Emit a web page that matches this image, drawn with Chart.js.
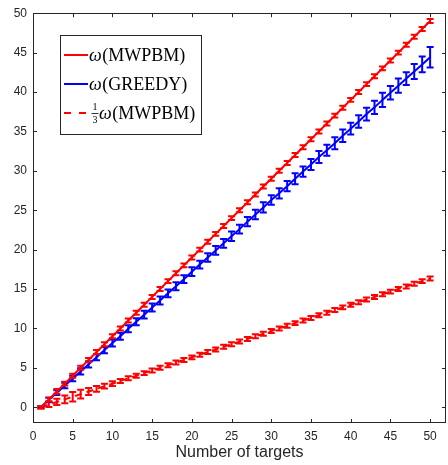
<!DOCTYPE html>
<html>
<head>
<meta charset="utf-8">
<script src="https://cdn.jsdelivr.net/npm/chart.js@4/dist/chart.umd.min.js"></script>
<style>
  html, body { margin: 0; padding: 0; background: #ffffff; }
  #wrap { width: 448px; height: 465px; }
</style>
</head>
<body>
<div id="wrap"><canvas id="c" width="448" height="465"></canvas></div>
<script>
// ---- data ----
const nTargets = [1,2,3,4,5,6,7,8,9,10,11,12,13,14,15,16,17,18,19,20,21,22,23,24,25,26,27,28,29,30,31,32,33,34,35,36,37,38,39,40,41,42,43,44,45,46,47,48,49,50];
const mwpbm = [0,1,2,3,4,5,6,7,8,9,10,11,12,13,14,15,16,17,18,19,20,21,22,23,24,25,26,27,28,29,30,31,32,33,34,35,36,37,38,39,40,41,42,43,44,45,46,47,48,49];
const mwpbmErr = [0.15,0.25,0.3,0.25,0.25,0.25,0.25,0.25,0.25,0.25,0.25,0.25,0.25,0.25,0.25,0.25,0.25,0.25,0.25,0.25,0.25,0.25,0.25,0.25,0.25,0.25,0.25,0.25,0.25,0.25,0.25,0.25,0.25,0.25,0.25,0.25,0.25,0.25,0.25,0.25,0.25,0.25,0.25,0.25,0.25,0.25,0.25,0.25,0.25,0.25];
const greedy = [0,0.95,1.85,2.75,3.65,4.55,5.45,6.35,7.25,8.15,9.0,9.95,10.85,11.75,12.65,13.55,14.45,15.35,16.25,17.2,18.1,19.0,19.9,20.8,21.7,22.6,23.55,24.45,25.35,26.3,27.15,28.05,29.0,29.9,30.8,31.75,32.6,33.5,34.45,35.35,36.25,37.2,38.05,39.0,39.9,40.8,41.7,42.6,43.5,44.4];
const greedyErr = [0.1,0.25,0.3,0.35,0.35,0.4,0.4,0.4,0.4,0.45,0.45,0.45,0.45,0.5,0.5,0.5,0.5,0.5,0.5,0.55,0.5,0.55,0.55,0.55,0.6,0.55,0.6,0.6,0.65,0.6,0.65,0.65,0.7,0.65,0.7,0.75,0.7,0.75,0.8,0.75,0.8,0.8,0.85,0.9,0.85,0.9,0.8,0.95,1.0,1.3];
const third = [0,0.33,0.67,1,1.33,1.67,2,2.33,2.67,3,3.33,3.67,4,4.33,4.67,5,5.33,5.67,6,6.33,6.67,7,7.33,7.67,8,8.33,8.67,9,9.33,9.67,10,10.33,10.67,11,11.33,11.67,12,12.33,12.67,13,13.33,13.67,14,14.33,14.67,15,15.33,15.67,16,16.33];
const thirdErr = [0.15,0.3,0.4,0.5,0.6,0.55,0.45,0.35,0.3,0.3,0.25,0.25,0.25,0.25,0.25,0.25,0.25,0.25,0.25,0.25,0.25,0.25,0.25,0.25,0.25,0.25,0.25,0.25,0.25,0.25,0.25,0.25,0.25,0.25,0.25,0.25,0.25,0.25,0.25,0.25,0.25,0.25,0.25,0.25,0.25,0.25,0.25,0.25,0.25,0.25];
const xTicks = [0,5,10,15,20,25,30,35,40,45,50];
const yTicks = [0,5,10,15,20,25,30,35,40,45,50];
const seriesLabels = ['\u03C9(MWPBM)', '\u03C9(GREEDY)', '\u03C9(MWPBM)'];
const xTitle = 'Number of targets';

const AXIS = '#262626';
const RED = '#ff0000';
const BLUE = '#0000ff';

function pts(ys) { return nTargets.map((n, i) => ({ x: n, y: ys[i] })); }

const errPlugin = {
  id: 'errbars',
  afterDatasetDraw(chart, args) {
    const ds = chart.data.datasets[args.index];
    if (!ds.errors) return;
    const ctx = chart.ctx, xs = chart.scales.x, ys = chart.scales.y;
    ctx.save();
    ctx.strokeStyle = ds.borderColor;
    ctx.lineWidth = 2;
    ctx.setLineDash([]);
    const w = ds.capWidth / 2;
    ds.data.forEach((p, i) => {
      const e = ds.errors[i];
      const x = xs.getPixelForValue(p.x);
      const y1 = ys.getPixelForValue(p.y - e);
      const y2 = ys.getPixelForValue(p.y + e);
      ctx.beginPath();
      ctx.moveTo(x, y1); ctx.lineTo(x, y2);
      ctx.moveTo(x - w, y1); ctx.lineTo(x + w, y1);
      ctx.moveTo(x - w, y2); ctx.lineTo(x + w, y2);
      ctx.stroke();
    });
    ctx.restore();
  }
};

function drawLabel(ctx, text, x, y) {
  // omega in italic, rest upright
  ctx.font = 'italic 18px "Liberation Serif", serif';
  ctx.fillText(text[0], x, y);
  const w = ctx.measureText(text[0]).width;
  ctx.font = '18px "Liberation Serif", serif';
  ctx.fillText(text.slice(1), x + w + 0.5, y);
}

const framePlugin = {
  id: 'frame',
  afterDraw(chart) {
    const ctx = chart.ctx, a = chart.chartArea, xs = chart.scales.x, ys = chart.scales.y;
    ctx.save();
    ctx.strokeStyle = AXIS;
    ctx.lineWidth = 1;
    ctx.setLineDash([]);
    ctx.strokeRect(Math.round(a.left) + 0.5, Math.round(a.top) + 0.5, Math.round(a.right - a.left) - 1, Math.round(a.bottom - a.top) - 1);
    const L = 4;
    ctx.beginPath();
    xTicks.forEach(v => {
      const x = Math.round(xs.getPixelForValue(v)) + 0.5;
      ctx.moveTo(x, a.bottom); ctx.lineTo(x, a.bottom - L);
      ctx.moveTo(x, a.top); ctx.lineTo(x, a.top + L);
    });
    yTicks.forEach(v => {
      const y = Math.round(ys.getPixelForValue(v)) + 0.5;
      ctx.moveTo(a.left, y); ctx.lineTo(a.left + L, y);
      ctx.moveTo(a.right, y); ctx.lineTo(a.right - L, y);
    });
    ctx.stroke();

    // legend
    const bx = 60, by = 35, bw = 141, bh = 99;
    ctx.fillStyle = '#ffffff';
    ctx.fillRect(bx, by, bw, bh);
    ctx.strokeStyle = AXIS;
    ctx.strokeRect(bx + 0.5, by + 0.5, bw, bh);
    const rows = [
      { y: 55, color: RED, dash: [] },
      { y: 84, color: BLUE, dash: [] },
      { y: 113, color: RED, dash: [7, 8] }
    ];
    rows.forEach((r, i) => {
      ctx.strokeStyle = r.color;
      ctx.lineWidth = 2;
      ctx.setLineDash(r.dash);
      ctx.beginPath();
      ctx.moveTo(64, r.y); ctx.lineTo(88, r.y);
      ctx.stroke();
      ctx.setLineDash([]);
      ctx.fillStyle = '#000000';
      ctx.textBaseline = 'middle';
      ctx.textAlign = 'left';
      let tx = 89;
      if (i === 2) {
        ctx.font = '10px "Liberation Serif", serif';
        ctx.textAlign = 'center';
        ctx.fillText('1', 95, r.y - 6);
        ctx.fillText('3', 95, r.y + 7);
        ctx.lineWidth = 0.8;
        ctx.strokeStyle = '#000000';
        ctx.beginPath(); ctx.moveTo(91.5, r.y + 0.5); ctx.lineTo(98.5, r.y + 0.5); ctx.stroke();
        ctx.textAlign = 'left';
        tx = 99;
      }
      drawLabel(ctx, seriesLabels[i], tx, r.y + 1);
    });
    ctx.restore();
  }
};

new Chart(document.getElementById('c'), {
  type: 'line',
  data: {
    datasets: [
      { label: seriesLabels[0], data: pts(mwpbm), errors: mwpbmErr, capWidth: 7, borderColor: RED, borderWidth: 2, pointRadius: 0, fill: false, tension: 0 },
      { label: seriesLabels[1], data: pts(greedy), errors: greedyErr, capWidth: 7, borderColor: BLUE, borderWidth: 2, pointRadius: 0, fill: false, tension: 0 },
      { label: '1/3 ' + seriesLabels[2], data: pts(third), errors: thirdErr, capWidth: 7, borderColor: RED, borderWidth: 2, borderDash: [7, 5], pointRadius: 0, fill: false, tension: 0 }
    ]
  },
  options: {
    responsive: false,
    animation: false,
    devicePixelRatio: 1,
    layout: { padding: { top: 13, right: 2, left: 0, bottom: 0 } },
    plugins: { legend: { display: false }, tooltip: { enabled: false } },
    scales: {
      x: {
        type: 'linear', min: 0, max: 52,
        grid: { display: false, drawTicks: false },
        border: { display: false },
        afterBuildTicks: s => { s.ticks = xTicks.map(v => ({ value: v })); },
        afterFit: s => { s.height = 42; },
        ticks: { color: AXIS, font: { family: '"Liberation Sans", Arial, sans-serif', size: 12 }, padding: 6, maxRotation: 0, autoSkip: false },
        title: { display: true, text: xTitle, color: AXIS, font: { family: '"Liberation Sans", Arial, sans-serif', size: 16 }, padding: { top: 0, bottom: 3 } }
      },
      y: {
        type: 'linear', min: -2, max: 50,
        grid: { display: false, drawTicks: false },
        border: { display: false },
        afterBuildTicks: s => { s.ticks = yTicks.map(v => ({ value: v })); },
        afterFit: s => { s.width = 33; },
        ticks: { color: AXIS, font: { family: '"Liberation Sans", Arial, sans-serif', size: 12 }, padding: 6, autoSkip: false }
      }
    }
  },
  plugins: [errPlugin, framePlugin]
});
</script>
</body>
</html>
